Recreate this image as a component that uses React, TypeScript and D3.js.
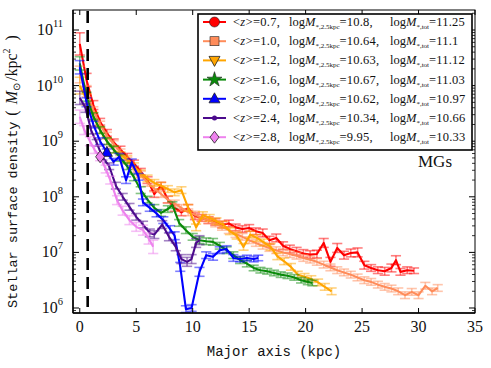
import React from "react";
import * as d3 from "d3";

const W = 491;
const H = 368;

// each point: [major axis (kpc), log10 surface density, error (dex)]
const z07 = [
  [0, 10.75, 0.2], [0.6, 10.1, 0.12], [1.2, 9.65, 0.08], [1.8, 9.35, 0.06], [2.4, 9.15, 0.06],
  [3.0, 8.98, 0.06], [3.6, 8.85, 0.06], [4.2, 8.72, 0.06], [4.8, 8.6, 0.06], [5.4, 8.45, 0.06],
  [6.0, 8.3, 0.06], [6.6, 8.05, 0.06], [7.2, 8.2, 0.06], [7.8, 7.95, 0.06], [8.4, 7.8, 0.06],
  [9.0, 7.72, 0.06], [9.6, 7.8, 0.06], [10.2, 7.65, 0.06], [10.8, 7.62, 0.06], [11.4, 7.58, 0.06],
  [12.0, 7.55, 0.06], [12.6, 7.5, 0.06], [13.2, 7.52, 0.06], [13.8, 7.45, 0.06], [14.4, 7.42, 0.06],
  [15.0, 7.44, 0.06], [15.6, 7.38, 0.06], [16.2, 7.35, 0.07], [16.8, 7.22, 0.07], [17.4, 7.26, 0.07],
  [18.0, 7.12, 0.07], [18.6, 7.06, 0.07], [19.2, 7.02, 0.07], [19.8, 6.98, 0.07], [20.4, 6.96, 0.07],
  [21.0, 6.97, 0.07], [21.6, 7.17, 0.08], [22.2, 6.83, 0.08], [22.8, 7.08, 0.08], [23.4, 6.95, 0.07],
  [24.0, 6.99, 0.07], [24.6, 7.0, 0.08], [25.2, 6.77, 0.07], [25.8, 6.72, 0.06], [26.4, 6.68, 0.06],
  [27.0, 6.66, 0.07], [27.6, 6.72, 0.07], [28.0, 6.86, 0.08], [28.4, 6.65, 0.06], [29.0, 6.68, 0.06],
  [29.6, 6.67, 0.05],
];

const z10 = [
  [0, 10.2, 0.15], [0.6, 9.9, 0.1], [1.2, 9.55, 0.07], [1.8, 9.3, 0.06], [2.4, 9.1, 0.06],
  [3.0, 8.95, 0.06], [3.6, 8.8, 0.06], [4.2, 8.65, 0.06], [4.8, 8.5, 0.06], [5.4, 8.4, 0.06],
  [6.0, 8.25, 0.06], [6.6, 8.15, 0.06], [7.2, 8.05, 0.06], [7.8, 7.95, 0.06], [8.4, 7.88, 0.06],
  [9.0, 7.8, 0.06], [9.6, 7.72, 0.06], [10.2, 7.68, 0.06], [10.8, 7.62, 0.06], [11.4, 7.58, 0.06],
  [12.0, 7.52, 0.06], [12.6, 7.46, 0.06], [13.2, 7.4, 0.06], [13.8, 7.33, 0.06], [14.4, 7.28, 0.06],
  [15.0, 7.22, 0.06], [15.6, 7.17, 0.06], [16.2, 7.12, 0.06], [16.8, 7.08, 0.06], [17.4, 7.04, 0.06],
  [18.0, 7.0, 0.06], [18.6, 6.97, 0.06], [19.2, 6.94, 0.06], [19.8, 6.9, 0.06], [20.4, 6.87, 0.06],
  [21.0, 6.83, 0.06], [21.6, 6.78, 0.06], [22.2, 6.73, 0.06], [22.8, 6.68, 0.06], [23.4, 6.64, 0.06],
  [24.0, 6.6, 0.06], [24.6, 6.55, 0.06], [25.2, 6.5, 0.06], [25.8, 6.47, 0.06], [26.4, 6.42, 0.06],
  [27.0, 6.38, 0.06], [27.6, 6.35, 0.06], [28.2, 6.3, 0.06], [28.8, 6.23, 0.06], [29.4, 6.29, 0.06],
  [30.0, 6.23, 0.06], [30.6, 6.4, 0.06], [31.2, 6.3, 0.06], [31.7, 6.36, 0.06],
];

const z12 = [
  [0, 10.0, 0.15], [0.6, 9.75, 0.1], [1.2, 9.45, 0.07], [1.8, 9.2, 0.06], [2.4, 9.0, 0.06],
  [3.0, 8.85, 0.06], [3.6, 8.75, 0.06], [4.2, 8.68, 0.06], [4.8, 8.55, 0.06], [5.4, 8.42, 0.06],
  [6.0, 8.33, 0.06], [6.6, 8.25, 0.06], [7.2, 8.2, 0.06], [7.8, 8.14, 0.06], [8.4, 8.08, 0.06],
  [9.0, 8.12, 0.06], [9.6, 7.8, 0.06], [10.3, 7.45, 0.06], [10.9, 7.67, 0.06], [11.5, 7.62, 0.06],
  [12.1, 7.56, 0.06], [12.7, 7.5, 0.06], [13.3, 7.38, 0.06], [13.9, 7.3, 0.06], [14.5, 7.1, 0.06],
  [15.1, 7.32, 0.06], [15.7, 7.26, 0.06], [16.3, 7.18, 0.06], [16.9, 7.1, 0.06], [17.5, 6.93, 0.06],
  [18.1, 6.84, 0.06], [18.7, 6.74, 0.06], [19.3, 6.6, 0.06], [19.9, 6.56, 0.06], [20.5, 6.52, 0.06],
  [21.1, 6.46, 0.06], [21.7, 6.38, 0.06], [22.3, 6.3, 0.06],
];

const z16 = [
  [0, 10.4, 0.12], [0.6, 9.8, 0.08], [1.2, 9.45, 0.06], [1.8, 9.2, 0.06], [2.4, 9.0, 0.06],
  [3.0, 8.85, 0.06], [3.6, 8.7, 0.06], [4.2, 8.55, 0.06], [4.8, 8.35, 0.06], [5.4, 8.12, 0.06],
  [6.0, 7.95, 0.06], [6.6, 7.8, 0.06], [7.2, 7.71, 0.06], [7.8, 7.78, 0.06], [8.2, 7.85, 0.06],
  [8.8, 7.53, 0.06], [9.4, 7.4, 0.06], [10.0, 7.28, 0.06], [10.6, 7.22, 0.06], [11.2, 7.2, 0.06],
  [11.8, 7.19, 0.06], [12.4, 7.12, 0.06], [13.0, 7.04, 0.06], [13.6, 6.95, 0.06], [14.2, 6.86, 0.06],
  [14.8, 6.8, 0.06], [15.4, 6.72, 0.05], [16.0, 6.68, 0.05], [16.6, 6.66, 0.05], [17.2, 6.63, 0.05],
  [17.8, 6.6, 0.05], [18.4, 6.58, 0.05], [19.0, 6.55, 0.05], [19.6, 6.5, 0.05], [20.2, 6.47, 0.05],
  [20.6, 6.45, 0.05],
];

const z20 = [
  [0, 10.33, 0.12], [0.6, 9.7, 0.08], [1.2, 9.3, 0.06], [1.8, 9.0, 0.06], [2.4, 8.8, 0.06],
  [3.0, 8.63, 0.06], [3.5, 8.72, 0.06], [4.1, 8.3, 0.06], [4.6, 8.62, 0.06], [5.2, 8.36, 0.06],
  [5.6, 7.9, 0.06], [6.2, 7.8, 0.06], [6.8, 7.7, 0.06], [7.4, 7.58, 0.06], [8.0, 7.42, 0.06],
  [8.4, 7.3, 0.07], [8.9, 6.74, 0.08], [9.4, 5.98, 0.06], [9.9, 6.0, 0.06], [10.6, 6.65, 0.08],
  [11.2, 6.95, 0.06], [11.8, 6.92, 0.06], [12.4, 7.04, 0.06], [13.0, 7.06, 0.06], [13.6, 6.9, 0.06],
  [14.2, 6.88, 0.05], [14.8, 6.9, 0.05], [15.4, 6.88, 0.05], [15.8, 6.9, 0.05],
];

const z24 = [
  [0, 9.78, 0.12], [0.5, 9.6, 0.08], [1.0, 9.2, 0.07], [1.5, 8.97, 0.06], [2.0, 8.72, 0.06],
  [2.6, 8.55, 0.06], [3.2, 8.2, 0.06], [3.8, 8.0, 0.06], [4.4, 7.82, 0.06], [5.0, 7.64, 0.06],
  [5.6, 7.5, 0.06], [6.2, 7.35, 0.07], [6.6, 7.32, 0.07], [7.3, 7.5, 0.07], [7.9, 7.28, 0.07],
  [8.5, 7.1, 0.07], [9.0, 6.88, 0.08], [9.5, 6.83, 0.08], [9.9, 6.88, 0.08], [10.3, 7.17, 0.08],
  [10.6, 7.22, 0.08],
];

const z28 = [
  [0, 9.44, 0.12], [0.4, 9.2, 0.08], [0.9, 9.0, 0.08], [1.3, 8.85, 0.07], [1.8, 8.72, 0.07],
  [2.3, 8.5, 0.07], [2.7, 8.3, 0.07], [3.3, 7.94, 0.08], [3.8, 7.75, 0.08], [4.4, 7.58, 0.08],
  [5.0, 7.46, 0.08], [5.6, 7.4, 0.09], [6.1, 7.25, 0.1], [6.5, 7.1, 0.12],
];

const redshifts = ["0.7", "1.0", "1.2", "1.6", "2.0", "2.4", "2.8"];
const logM25 = ["10.8", "10.64", "10.63", "10.67", "10.62", "10.34", "9.95"];
const logMtot = ["11.25", "11.1", "11.12", "11.03", "10.97", "10.66", "10.33"];
const colors = ["#ff0000", "#ff8c5a", "#ffa500", "#0a8a0a", "#0000ff", "#4b0a8c", "#ee82ee"];
const markers = ["circle", "square", "tridown", "star", "triup", "dot", "diamond"];
const profiles = [z07, z10, z12, z16, z20, z24, z28];
// profile points where a marker was drawn on the curve
const markedX = [null, null, 3.8, null, 2.4, null, 1.8];

const xTicks = [0, 5, 10, 15, 20, 25, 30, 35];
const yDecades = [6, 7, 8, 9, 10, 11];

const SERIF = "Times New Roman, Liberation Serif, serif";
const MONO = "Liberation Mono, DejaVu Sans Mono, monospace";

function Marker({ type, x, y, color }: { type: string; x: number; y: number; color: string }) {
  const edge = "#222";
  if (type === "circle") return <circle cx={x} cy={y} r={5} fill={color} stroke={edge} strokeWidth={0.6} />;
  if (type === "square") return <rect x={x - 4.5} y={y - 4.5} width={9} height={9} fill={color} stroke={edge} strokeWidth={0.6} />;
  if (type === "dot") return <circle cx={x} cy={y} r={2.5} fill={color} />;
  if (type === "diamond")
    return <path d={`M${x},${y - 6}L${x + 4.5},${y}L${x},${y + 6}L${x - 4.5},${y}Z`} fill={color} stroke={edge} strokeWidth={0.8} />;
  if (type === "triup")
    return <path d={`M${x},${y - 6}L${x + 5.5},${y + 4}L${x - 5.5},${y + 4}Z`} fill={color} stroke={edge} strokeWidth={0.8} />;
  if (type === "tridown")
    return <path d={`M${x},${y + 6}L${x + 5.5},${y - 4}L${x - 5.5},${y - 4}Z`} fill={color} stroke={edge} strokeWidth={0.8} />;
  // star
  const star = d3.symbol().type(d3.symbolStar).size(70)();
  return <path d={star as string} transform={`translate(${x},${y})`} fill={color} stroke={edge} strokeWidth={0.6} />;
}

export default function App() {
  const x = d3.scaleLinear().domain([-0.6, 35]).range([73, 475]);
  const y = d3.scaleLog().domain([Math.pow(10, 5.91), Math.pow(10, 11.36)]).range([313, 10]);
  const [x0, x1] = x.range();
  const [yb, yt] = y.range();

  const line = d3
    .line<number[]>()
    .x((d) => x(d[0]))
    .y((d) => y(Math.pow(10, d[1])));

  const minor: number[] = [];
  for (let e = 5; e <= 11; e++) {
    for (let k = 2; k <= 9; k++) {
      const v = k * Math.pow(10, e);
      const [lo, hi] = y.domain();
      if (v > lo && v < hi) minor.push(v);
    }
  }

  const capHalf = x(0.45) - x(0);
  const legendRowY = (i: number) => 22 + i * 19.2;

  return (
    <svg width={W} height={H} style={{ position: "absolute", left: 0, top: 0, background: "#fff" }}>
      {/* data */}
      <g>
        {profiles.map((data, si) => (
          <g key={si}>
            {data.map((d, i) => {
              const cx = x(d[0]);
              const ya = y(Math.pow(10, d[1] + d[2]));
              const yc = y(Math.pow(10, d[1] - d[2]));
              return (
                <g key={i} stroke={colors[si]} strokeOpacity={0.5} strokeWidth={1.6}>
                  <line x1={cx} x2={cx} y1={ya} y2={yc} />
                  <line x1={cx - capHalf} x2={cx + capHalf} y1={ya} y2={ya} />
                  <line x1={cx - capHalf} x2={cx + capHalf} y1={yc} y2={yc} />
                </g>
              );
            })}
            <path d={line(data as number[][]) || ""} fill="none" stroke={colors[si]} strokeWidth={2.1} strokeLinejoin="round" />
          </g>
        ))}
        {profiles.map((data, si) => {
          const mx = markedX[si];
          if (mx === null) return null;
          const p = data.find((d) => d[0] === mx);
          if (!p) return null;
          return <Marker key={si} type={markers[si]} x={x(p[0])} y={y(Math.pow(10, p[1]))} color={colors[si]} />;
        })}
      </g>

      {/* dashed line at 0.7 kpc */}
      <line x1={x(0.7)} x2={x(0.7)} y1={yt + 1} y2={yb - 6} stroke="#000" strokeWidth={2.6} strokeDasharray="12,7" />

      {/* frame */}
      <rect x={x0} y={yt} width={x1 - x0} height={yb - yt} fill="none" stroke="#000" strokeWidth={1} />
      <line x1={x0} x2={x0} y1={yt} y2={yb} stroke="#000" strokeWidth={1.5} />
      <line x1={x0} x2={x1} y1={yb} y2={yb} stroke="#000" strokeWidth={1.5} />

      {/* x ticks */}
      {xTicks.map((t) => (
        <g key={t}>
          <line x1={x(t)} x2={x(t)} y1={yb} y2={yb - 5} stroke="#000" />
          <line x1={x(t)} x2={x(t)} y1={yt} y2={yt + 5} stroke="#000" />
          <text x={x(t)} y={yb + 19} textAnchor="middle" fontFamily={SERIF} fontSize={16} fill="#111">
            {t}
          </text>
        </g>
      ))}

      {/* y ticks */}
      {yDecades.map((e) => {
        const yy = y(Math.pow(10, e));
        return (
          <g key={e}>
            <line x1={x0} x2={x0 + 6} y1={yy} y2={yy} stroke="#000" />
            <line x1={x1} x2={x1 - 6} y1={yy} y2={yy} stroke="#000" />
            <text x={63} y={yy + 5} textAnchor="end" fontFamily={SERIF} fontSize={16} fill="#111">
              10
              <tspan fontSize={10.5} dy={-8}>
                {e}
              </tspan>
            </text>
          </g>
        );
      })}
      {minor.map((v, i) => (
        <g key={i}>
          <line x1={x0} x2={x0 + 3} y1={y(v)} y2={y(v)} stroke="#000" strokeWidth={0.8} />
          <line x1={x1} x2={x1 - 3} y1={y(v)} y2={y(v)} stroke="#000" strokeWidth={0.8} />
        </g>
      ))}

      {/* axis labels */}
      <text x={(x0 + x1) / 2} y={356} textAnchor="middle" fontFamily={MONO} fontSize={14} fill="#111">
        Major axis (kpc)
      </text>
      <g transform="translate(17,0) rotate(-90)">
        <text x={-308} y={0} fontFamily={MONO} fontSize={13.5} fill="#111">
          Stellar surface density
          <tspan fontFamily={SERIF} fontSize={16} dx={6}>(</tspan>
          <tspan fontFamily={SERIF} fontSize={16} fontStyle="italic" dx={6}>M</tspan>
          <tspan fontFamily={SERIF} fontSize={10} dy={3}>⊙</tspan>
          <tspan fontFamily={SERIF} fontSize={16} dy={-3} dx={2}>/kpc</tspan>
          <tspan fontFamily={SERIF} fontSize={10} dy={-7}>2</tspan>
          <tspan fontFamily={SERIF} fontSize={16} dy={7} dx={8}>)</tspan>
        </text>
      </g>

      {/* sample label */}
      <text x={418} y={167} fontFamily={SERIF} fontSize={17} fill="#111">
        MGs
      </text>

      {/* legend */}
      <rect x={198} y={14} width={274} height={136} fill="#fff" stroke="#000" strokeWidth={1.6} />
      {redshifts.map((z, i) => {
        const ry = legendRowY(i);
        return (
          <g key={z} fontFamily={SERIF} fontSize={12.5} fill="#111">
            <line x1={203} x2={226} y1={ry} y2={ry} stroke={colors[i]} strokeWidth={2} />
            <Marker type={markers[i]} x={214.5} y={ry} color={colors[i]} />
            <text x={233} y={ry + 4} letterSpacing={0.3}>
              {"<"}
              <tspan fontStyle="italic">z</tspan>
              {">=" + z + ","}
            </text>
            <text x={289} y={ry + 4}>
              log<tspan fontStyle="italic">M</tspan>
              <tspan fontSize={7} dy={3}>*,2.5kpc</tspan>
              <tspan dy={-3} letterSpacing={0.2}>{"=" + logM25[i] + ","}</tspan>
            </text>
            <text x={390} y={ry + 4}>
              log<tspan fontStyle="italic">M</tspan>
              <tspan fontSize={7} dy={3}>*,tot</tspan>
              <tspan dy={-3} letterSpacing={0.2}>{"=" + logMtot[i]}</tspan>
            </text>
          </g>
        );
      })}
    </svg>
  );
}
